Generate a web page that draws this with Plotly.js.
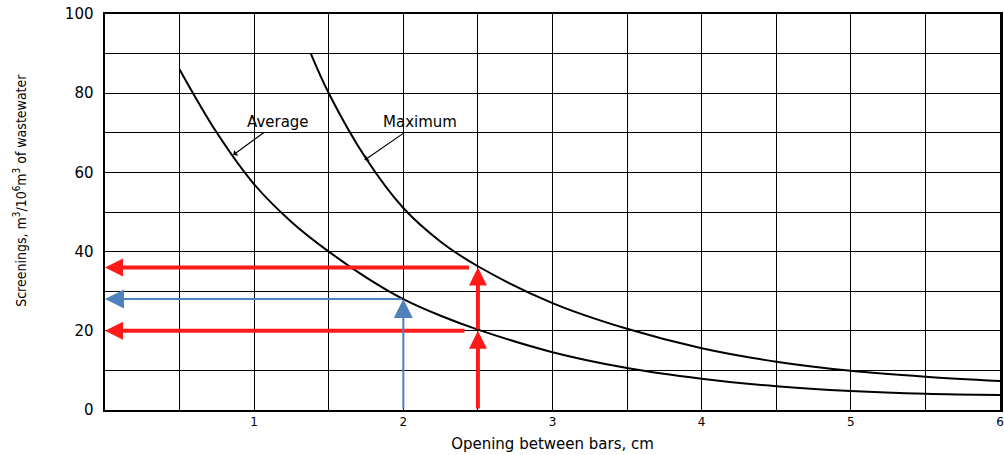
<!DOCTYPE html>
<html>
<head>
<meta charset="utf-8">
<script src="https://cdn.plot.ly/plotly-3.0.1.min.js"></script>
<style>html,body{margin:0;padding:0;background:#fff;}#chart{width:1004px;height:455px;}</style>
</head>
<body>
<div id="chart"></div>
<script>
// Average curve
const xAvg = [0.5, 0.75, 1, 1.25, 1.5, 1.75, 2, 2.25, 2.5, 3, 3.5, 4, 4.5, 5, 5.5, 6];
const yAvg = [86, 70, 57, 47.5, 40, 33.5, 28, 23.8, 20.3, 14.6, 10.6, 7.9, 6.0, 4.8, 4.1, 3.8];
// Maximum curve
const xMax = [1.38, 1.5, 1.75, 2, 2.25, 2.5, 3, 3.5, 4, 4.5, 5, 5.5, 6];
const yMax = [90, 80, 63.5, 51, 42.5, 36.3, 27, 20.5, 15.6, 12.2, 9.9, 8.4, 7.3];
// readings (red: 2.5 cm opening, blue: 2 cm opening)
const redX = 2.5, redAvg = 20, redMax = 36;
const blueX = 2, blueAvg = 28;
// ticks
const xTickVals = [1, 2, 3, 4, 5, 6];
const xTickText = ['1', '2', '3', '4', '5', '6'];
const yTickVals = [0, 20, 40, 60, 80, 100];
const yTickText = ['0', '20', '40', '60', '80', '100'];

const RED = '#ff1a1a', BLUE = '#4f81bd';

const traces = [
  {x: xAvg, y: yAvg, mode: 'lines', line: {color: '#000', width: 2, shape: 'spline', smoothing: 1}, hoverinfo: 'skip'},
  {x: xMax, y: yMax, mode: 'lines', line: {color: '#000', width: 2, shape: 'spline', smoothing: 1}, hoverinfo: 'skip'}
];

function arrow(x0, y0, x1, y1, color, w, size) {
  return {x: x1, y: y1, ax: x0, ay: y0, xref: 'x', yref: 'y', axref: 'x', ayref: 'y',
    text: '', showarrow: true, arrowhead: 2, arrowsize: size, arrowwidth: w, arrowcolor: color};
}

const annFont = {family: 'DejaVu Sans, sans-serif', size: 15, color: '#000'};
const annotations = [
  arrow(redX, 0, redX, redAvg, RED, 4, 0.9),
  arrow(redX, redAvg, redX, redMax, RED, 4, 0.9),
  arrow(redX - 0.05, redMax, 0, redMax, RED, 4, 0.9),
  arrow(redX - 0.08, redAvg, 0, redAvg, RED, 4, 0.9),
  arrow(blueX, 0, blueX, blueAvg, BLUE, 2, 1.9),
  arrow(blueX, blueAvg, 0, blueAvg, BLUE, 2, 1.9),
  {x: 0.86, y: 64.4, xref: 'x', yref: 'y', ax: 45, ay: -33, text: 'Average', font: annFont,
   showarrow: true, arrowhead: 1, arrowsize: 1, arrowwidth: 1.2, arrowcolor: '#000'},
  {x: 1.74, y: 63.1, xref: 'x', yref: 'y', ax: 55, ay: -38, text: 'Maximum', font: annFont,
   showarrow: true, arrowhead: 1, arrowsize: 1, arrowwidth: 1.2, arrowcolor: '#000'},
  {xref: 'paper', yref: 'paper', x: -0.095, y: 0.556, xanchor: 'center', yanchor: 'middle',
   textangle: -90, showarrow: false,
   text: 'Screenings, m<sup>3</sup>/10<sup>6</sup>m<sup>3</sup> of wastewater',
   font: {family: 'Liberation Sans Narrow, DejaVu Sans Condensed, sans-serif', size: 14, color: '#000'}}
];

const layout = {
  width: 1004, height: 455,
  margin: {l: 105, r: 4, t: 14, b: 45},
  paper_bgcolor: '#fff', plot_bgcolor: '#fff',
  showlegend: false,
  font: {family: 'DejaVu Sans, sans-serif', size: 13, color: '#000'},
  xaxis: {
    range: [0, 6], tickvals: xTickVals, ticktext: xTickText, ticks: '',
    showgrid: true, gridcolor: '#000', gridwidth: 1,
    minor: {dtick: 0.5, tick0: 0, showgrid: true, gridcolor: '#000', gridwidth: 1},
    showline: true, linecolor: '#000', linewidth: 2, mirror: true, zeroline: false,
    tickfont: {size: 12},
    title: {text: 'Opening between bars, cm', font: {size: 15}, standoff: 10}
  },
  yaxis: {
    range: [0, 100], tickvals: yTickVals, ticktext: yTickText, ticks: '',
    showgrid: true, gridcolor: '#000', gridwidth: 1,
    minor: {dtick: 10, tick0: 0, showgrid: true, gridcolor: '#000', gridwidth: 1},
    showline: true, linecolor: '#000', linewidth: 2.5, mirror: true, zeroline: false,
    tickfont: {size: 15}, ticklabelstandoff: 6
  },
  annotations: annotations
};

Plotly.newPlot('chart', traces, layout, {staticPlot: true, displayModeBar: false});
</script>
</body>
</html>
